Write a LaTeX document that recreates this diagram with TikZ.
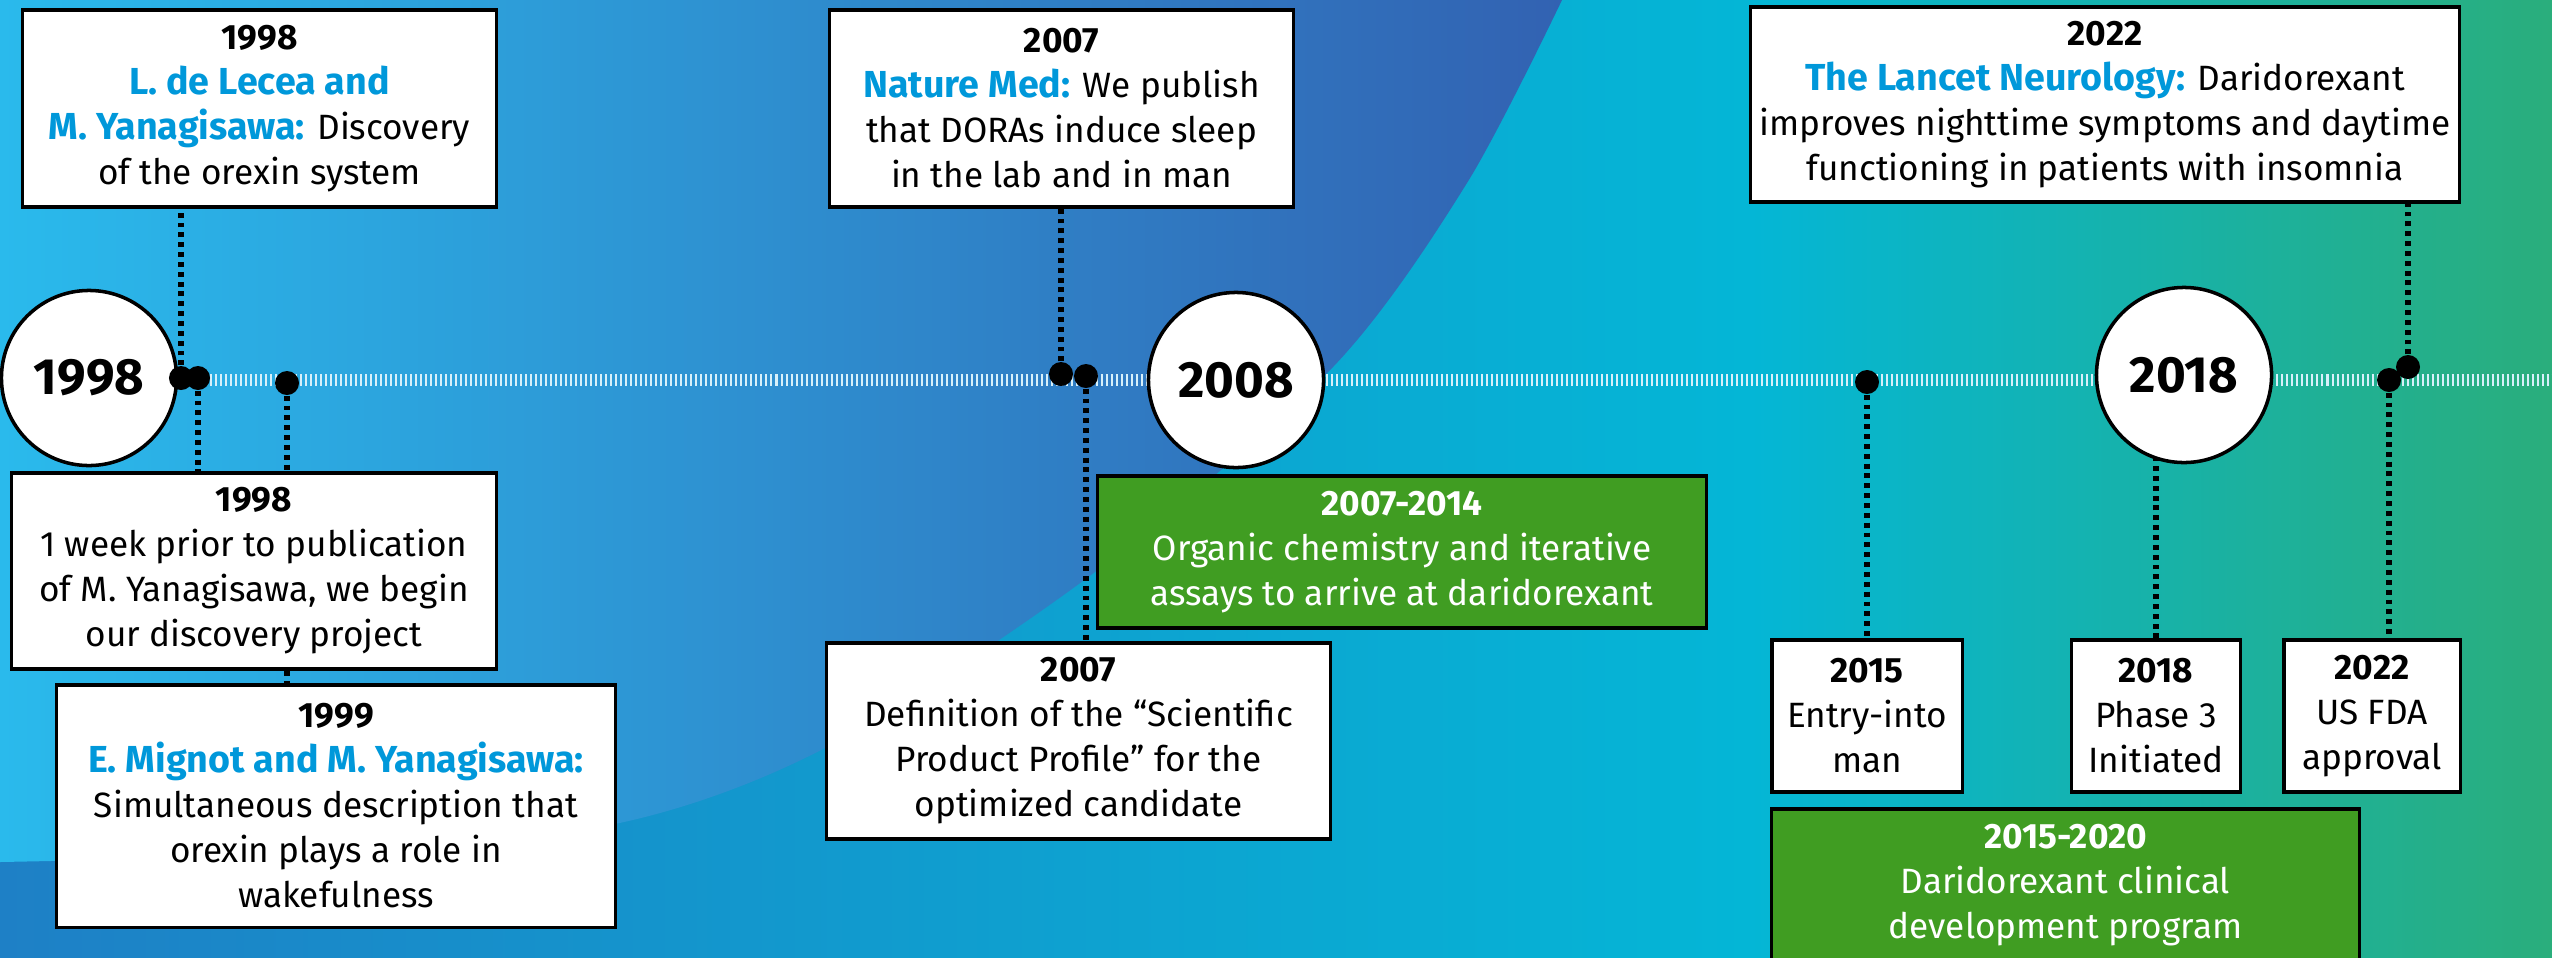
\documentclass[tikz,border=0pt]{standalone}
\usepackage{fontspec}
\setmainfont{Fira Sans}
\usepackage{xcolor}
\usetikzlibrary{positioning,calc}

\definecolor{pubblue}{RGB}{0,152,218}
\definecolor{boxgreen}{RGB}{64,157,34}
\definecolor{skyblue}{RGB}{42,186,236}
\definecolor{deepblue}{RGB}{50,98,178}
\definecolor{lowblue}{RGB}{30,128,198}
\definecolor{cyanbg}{RGB}{4,182,214}
\definecolor{greenbg}{RGB}{42,174,124}
\definecolor{barwhite}{RGB}{215,240,250}

\newcommand{\pub}[1]{{\fontsize{10.7}{12.8}\selectfont\textcolor{pubblue}{\textbf{#1}}}}

\pgfdeclarelayer{bg}
\pgfdeclarelayer{links}
\pgfsetlayers{bg,links,main}

\begin{document}
\begin{tikzpicture}[x=0.01cm, y=-0.01cm,
			evbox/.style={draw, line width=0.9pt, fill=white, align=center, inner sep=0pt, font=\fontsize{10}{12.8}\selectfont},
			greenbox/.style={evbox, fill=boxgreen, text=white},
			yearcircle/.style={circle, draw, line width=1pt, fill=white, minimum size=1.75cm, inner sep=0pt, font=\fontsize{14.5}{16}\selectfont\bfseries},
			evdot/.style={circle, fill=black, minimum size=0.24cm, inner sep=0pt},
			link/.style={line width=1.5pt, dash pattern=on 1.4pt off 1.4pt}]
			\useasboundingbox (0,0) rectangle (2552,957);
			% background
			\begin{pgfonlayer}{bg}
				\shade[left color=lowblue, right color=cyanbg] (0,0) rectangle (1750,957);
				\shade[left color=cyanbg, right color=greenbg] (1750,0) rectangle (2552,957);
				\shade[left color=skyblue, right color=deepblue] (0,0) -- plot[smooth] coordinates {(1562,0) (1467,183) (1333,367) (1095,572) (827,747) (610,825) (300,853) (0,862)} -- cycle;
				\draw[barwhite, line width=0.12cm, dash pattern=on 0.02cm off 0.03cm] (0,380) -- (2552,380);
			\end{pgfonlayer}
			
			\node[yearcircle] (c1998) at (89,378) {1998};
			\node[yearcircle] (c2008) at (1236,380) {2008};
			\node[yearcircle] (c2018) at (2184,375) {2018};
			
			\node[evbox, minimum width=4.73cm, minimum height=1.97cm] (orexin) at (259.5,108.5) {\textbf{1998}\\\pub{L. de Lecea and}\\\pub{M. Yanagisawa:} Discovery\\of the orexin system};
			\node[evbox, minimum width=4.84cm, minimum height=1.96cm] (project) at (254,571) {\textbf{1998}\\1 week prior to publication\\of M. Yanagisawa, we begin\\our discovery project};
			\node[evbox, minimum width=5.58cm, minimum height=2.42cm] (wake) at (336,806) {\textbf{1999}\\\pub{E. Mignot and M. Yanagisawa:}\\Simultaneous description that\\orexin plays a role in\\wakefulness};
			\node[evbox, minimum width=4.63cm, minimum height=1.97cm] (natmed) at (1061.5,108.5) {\textbf{2007}\\\pub{Nature Med:} We publish\\that DORAs induce sleep\\in the lab and in man};
			\node[evbox, minimum width=5.03cm, minimum height=1.96cm] (profile) at (1078.5,741) {\textbf{2007}\\Definition of the “Scientific\\Product Profile” for the\\optimized candidate};
			\node[greenbox, minimum width=6.08cm, minimum height=1.52cm] (chem) at (1402,552) {\textbf{2007-2014}\\Organic chemistry and iterative\\assays to arrive at daridorexant};
			\node[evbox, minimum width=7.08cm, minimum height=1.95cm] (lancet) at (2105,104.5) {\textbf{2022}\\\pub{The Lancet Neurology:} Daridorexant\\improves nighttime symptoms and daytime\\functioning in patients with insomnia};
			\node[evbox, minimum width=1.90cm, minimum height=1.52cm] (entry) at (1867,716) {\textbf{2015}\\Entry-into\\man};
			\node[evbox, minimum width=1.69cm, minimum height=1.52cm] (phase) at (2156,716) {\textbf{2018}\\Phase 3\\Initiated};
			\node[evbox, minimum width=1.76cm, minimum height=1.52cm] (fda) at (2372,716) {\textbf{2022}\\US FDA\\approval};
			\node[greenbox, minimum width=5.87cm, minimum height=1.52cm] (clinic) at (2065.5,885) {\textbf{2015-2020}\\Daridorexant clinical\\development program};
			
			\node[evdot] (d1) at (181,378) {};
			\node[evdot] (d2) at (198,378) {};
			\node[evdot] (d3) at (287,383) {};
			\node[evdot] (d4) at (1061,374) {};
			\node[evdot] (d5) at (1086,376) {};
			\node[evdot] (d6) at (1867,382) {};
			\node[evdot] (d7) at (2389,380) {};
			\node[evdot] (d8) at (2408,367) {};
			
			\begin{pgfonlayer}{links}
				\draw[link] (d1) -- (d1 |- orexin.south);
				\draw[link] (d2) -- (d2 |- project.north);
				\draw[link] (d3) -- (d3 |- wake.north);
				\draw[link] (d4) -- (d4 |- natmed.south);
				\draw[link] (d5) -- (d5 |- profile.north);
				\draw[link] (d6) -- (entry.north);
				\draw[link] (phase.north) -- (phase.north |- c2018.center);
				\draw[link] (d7) -- (d7 |- fda.north);
				\draw[link] (d8) -- (d8 |- lancet.south);
			\end{pgfonlayer}
		\end{tikzpicture}
\end{document}
